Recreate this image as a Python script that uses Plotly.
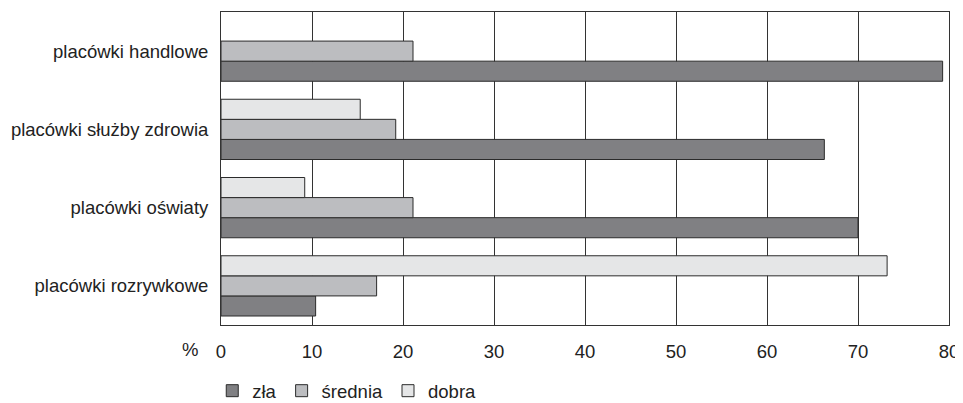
import plotly.graph_objects as go

categories = ["placówki rozrywkowe", "placówki oświaty", "placówki służby zdrowia", "placówki handlowe"]
zla = [10.4, 70.0, 66.3, 79.3]
srednia = [17.1, 21.1, 19.2, 21.1]
dobra = [73.2, 9.2, 15.3, None]
series_names = ["zła", "średnia", "dobra"]
colors = ["#808083", "#bcbdc0", "#e5e6e7"]
x_ticks = [0, 10, 20, 30, 40, 50, 60, 70, 80]

FS = 18.5

fig = go.Figure()
for name, vals, col in zip(series_names, [zla, srednia, dobra], colors):
    fig.add_trace(go.Bar(
        y=categories, x=vals, name=name, orientation="h",
        marker=dict(color=col, line=dict(color="#2b2b2b", width=1)),
    ))

# the page body has an 8px margin, so the figure is sized to fit from (8, 8)
fig.update_layout(
    width=955, height=395,
    margin=dict(l=213, r=14, t=4, b=78),
    paper_bgcolor="white", plot_bgcolor="white",
    barmode="group", bargap=0.23, bargroupgap=0,
    font=dict(family="Liberation Sans, Arial, sans-serif", size=FS, color="#222"),
    legend=dict(orientation="h", xref="paper", x=-0.012, xanchor="left",
                yref="container", y=0.03, yanchor="middle",
                font=dict(size=FS), traceorder="normal"),
    showlegend=True,
)
fig.update_xaxes(range=[0, 80], tickvals=x_ticks, showgrid=True, gridcolor="#333333", gridwidth=1,
                 showline=True, linecolor="#333333", linewidth=1, mirror=True,
                 ticks="", zeroline=False, tickfont=dict(size=FS), automargin=False,
                 ticklabelstandoff=10)
fig.update_yaxes(categoryorder="array", categoryarray=categories, showline=True,
                 linecolor="#333333", linewidth=1, mirror=True, ticks="",
                 showgrid=False, tickfont=dict(size=FS), automargin=False,
                 ticklabelstandoff=8)
fig.add_annotation(text="%", xref="paper", yref="paper", x=-0.0426, y=-0.077,
                   showarrow=False, font=dict(size=FS), xanchor="center", yanchor="middle")

fig.write_html("out.html")
